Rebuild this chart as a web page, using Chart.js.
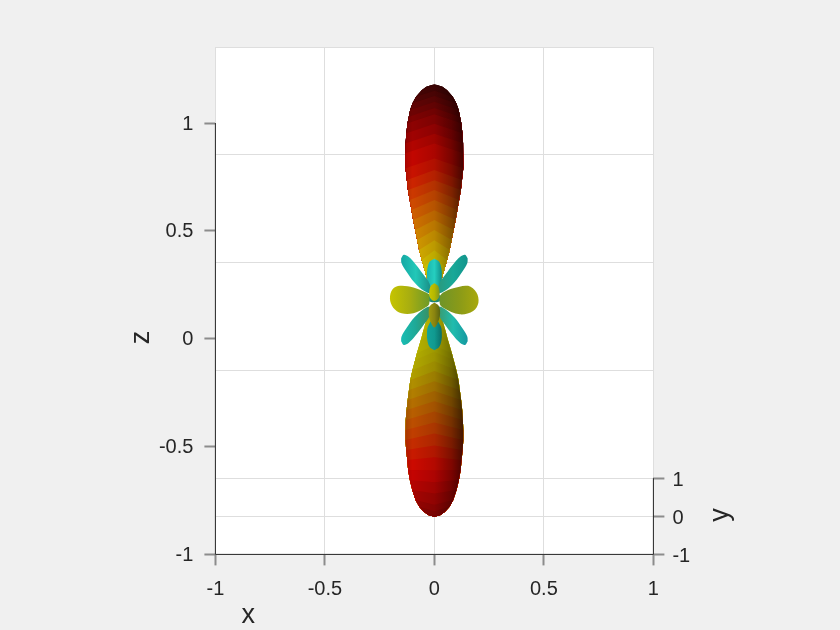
<!DOCTYPE html>
<html>
<head>
<meta charset="utf-8">
<title>Lobes</title>
<script src="https://cdn.jsdelivr.net/npm/chart.js@4"></script>
<style>
  html, body { margin: 0; padding: 0; background: #f0f0f0; }
  canvas { display: block; }
</style>
</head>
<body>
<canvas id="myChart" width="840" height="630"></canvas>
<script>
// tick labels
const xTicks = [-1, -0.5, 0, 0.5, 1];
const zTicks = [-1, -0.5, 0, 0.5, 1];
const yTicks = [-1, 0, 1];
const wallLines = [1.3505, 0.854, 0.353, -0.147];

// big lobes: one half width per z row
const topZ = [1.179, 1.176, 1.168, 1.153, 1.122, 1.091, 1.06, 1.029, 0.999, 0.952, 0.906, 0.86, 0.79, 0.736, 0.689, 0.643, 0.597, 0.55, 0.504, 0.458, 0.411, 0.365, 0.334, 0.272, 0.203];
const topW = [0, 0.013, 0.037, 0.057, 0.084, 0.1, 0.111, 0.117, 0.123, 0.128, 0.131, 0.132, 0.132, 0.126, 0.121, 0.113, 0.105, 0.097, 0.088, 0.079, 0.07, 0.058, 0.049, 0.032, 0.009];
const topApex = [1.179, 1.179, 1.179, 1.172, 1.15, 1.125, 1.098, 1.07, 1.04, 0.996, 0.95, 0.905, 0.836, 0.782, 0.735, 0.689, 0.643, 0.596, 0.55, 0.504, 0.457, 0.41, 0.375, 0.305, 0.21];
const topColors = ["#3c0404", "#3c0404", "#400404", "#460404", "#520404", "#600404", "#6e0303", "#7e0202", "#8e0202", "#a00202", "#b20400", "#c20600", "#c81200", "#cc2400", "#cc3800", "#ce4a00", "#cf5e00", "#d07200", "#d28600", "#d49a00", "#d6ae00", "#d8c000", "#d8cc00", "#d8d400", "#d8d400"];

const botZ = [0.133, 0.087, 0.04, -0.006, -0.068, -0.099, -0.145, -0.191, -0.238, -0.284, -0.331, -0.377, -0.423, -0.47, -0.516, -0.562, -0.609, -0.655, -0.701, -0.748, -0.779, -0.802, -0.817, -0.826];
const botW = [0.021, 0.037, 0.05, 0.062, 0.08, 0.088, 0.1, 0.11, 0.116, 0.122, 0.127, 0.13, 0.132, 0.132, 0.129, 0.124, 0.12, 0.112, 0.101, 0.086, 0.069, 0.048, 0.028, 0];
const botApex = [0.14, 0.11, 0.07, 0.03, -0.03, -0.06, -0.105, -0.15, -0.197, -0.243, -0.29, -0.337, -0.388, -0.44, -0.495, -0.55, -0.61, -0.665, -0.718, -0.77, -0.8, -0.82, -0.824, -0.826];
const botColors = ["#c8c800", "#c4c000", "#bcb800", "#b8b400", "#b4ae00", "#b2a800", "#b09e00", "#b08e00", "#b27e00", "#b46e00", "#b85e00", "#bc4e00", "#c03e00", "#c42c00", "#c81a00", "#cc0a00", "#c40402", "#b40402", "#a40402", "#960402", "#8a0402", "#860402", "#840402", "#840402"];

// small lobes, outline points
const leftX = [-0.024, -0.043, -0.096, -0.157, -0.191, -0.203, -0.188, -0.15, -0.096, -0.043, -0.024];
const leftZ = [0.206, 0.216, 0.237, 0.245, 0.229, 0.186, 0.144, 0.118, 0.118, 0.144, 0.16];
const rightX = [0.025, 0.04, 0.086, 0.154, 0.192, 0.201, 0.177, 0.116, 0.04, 0.025];
const rightZ = [0.198, 0.214, 0.234, 0.245, 0.214, 0.167, 0.129, 0.113, 0.144, 0.16];
const upLeftX = [-0.152, -0.14, -0.118, -0.088, -0.052, -0.022, -0.018, -0.048, -0.092, -0.128, -0.15];
const upLeftZ = [0.372, 0.389, 0.38, 0.348, 0.3, 0.255, 0.212, 0.222, 0.262, 0.312, 0.35];
const upRightX = [0.152, 0.14, 0.118, 0.088, 0.052, 0.022, 0.018, 0.048, 0.092, 0.128, 0.15];
const upRightZ = [0.372, 0.389, 0.38, 0.348, 0.3, 0.255, 0.212, 0.222, 0.262, 0.312, 0.35];
const lowLeftX = [-0.152, -0.14, -0.118, -0.088, -0.052, -0.022, -0.018, -0.048, -0.092, -0.128, -0.15];
const lowLeftZ = [-0.012, -0.029, -0.02, 0.012, 0.06, 0.105, 0.148, 0.138, 0.098, 0.048, 0.01];
const lowRightX = [0.152, 0.14, 0.118, 0.088, 0.052, 0.022, 0.018, 0.048, 0.092, 0.128, 0.15];
const lowRightZ = [-0.012, -0.029, -0.02, 0.012, 0.06, 0.105, 0.148, 0.138, 0.098, 0.048, 0.01];
const upMidX = [0, 0.021, 0.032, 0.034, 0.028, 0, -0.028, -0.034, -0.032, -0.021];
const upMidZ = [0.371, 0.358, 0.325, 0.29, 0.255, 0.226, 0.255, 0.29, 0.325, 0.358];
const lowMidX = [0, 0.021, 0.032, 0.034, 0.028, 0, -0.028, -0.034, -0.032, -0.021];
const lowMidZ = [-0.053, -0.04, -0.01, 0.025, 0.06, 0.095, 0.06, 0.025, -0.01, -0.04];
const hubX = [-0.043, -0.02, 0.02, 0.043, 0.02, -0.02];
const hubZ = [0.187, 0.203, 0.203, 0.187, 0.171, 0.171];
const coreUpX = [0, 0.016, 0.024, 0.02, 0, -0.02, -0.024, -0.016];
const coreUpZ = [0.257, 0.245, 0.214, 0.19, 0.175, 0.19, 0.214, 0.245];
const coreLowX = [0, 0.018, 0.026, 0.02, 0, -0.02, -0.026, -0.018];
const coreLowZ = [0.167, 0.155, 0.125, 0.085, 0.052, 0.085, 0.125, 0.155];

// painted in this order, colours run across the given x range
const smallLobes = [
  { x: lowMidX, z: lowMidZ, from: -0.034, to: 0.034, colors: ["#14a39a", "#109a90", "#0b6f68"] },
  { x: upMidX, z: upMidZ, from: -0.034, to: 0.034, colors: ["#1bb5ad", "#25cfc0", "#0f8f88"] },
  { x: upLeftX, z: upLeftZ, from: -0.152, to: -0.018, colors: ["#14a8a4", "#22c8b8", "#1a9088"] },
  { x: upRightX, z: upRightZ, from: 0.018, to: 0.152, colors: ["#2a9a7e", "#18a898", "#12948c"] },
  { x: lowLeftX, z: lowLeftZ, from: -0.152, to: -0.018, colors: ["#18bdb4", "#1fa896", "#3a8f60"] },
  { x: lowRightX, z: lowRightZ, from: 0.018, to: 0.152, colors: ["#3a9a70", "#20bcae", "#1498a0"] },
  { x: hubX, z: hubZ, from: -0.043, to: 0.043, colors: ["#2f9a78", "#1a7f70", "#2f9a78"] },
  { x: leftX, z: leftZ, from: -0.203, to: -0.024, colors: ["#c6c400", "#a8ae10", "#6f9a28"] },
  { x: rightX, z: rightZ, from: 0.025, to: 0.201, colors: ["#6f9428", "#8a9a18", "#a8a80c"] },
  { x: coreLowX, z: coreLowZ, from: -0.026, to: 0.026, colors: ["#a09a10", "#8a8410", "#5a6410"] },
  { x: coreUpX, z: coreUpZ, from: -0.024, to: 0.024, colors: ["#c8c400", "#b4b800", "#7c9420"] },
];
const shadowStops = [[0, 0.12], [0.12, 0], [0.5, 0.12], [0.8, 0.38], [1, 0.65]];

// dark parts of the box
const axisLeftX = [-1, -1];
const axisLeftZ = [-1, 1];
const axisBottomX = [-1, 1];
const axisBottomZ = [-1, -1];
const axisRightX = [1, 1];
const axisRightZ = [-1, -0.647];

const axisLabels = [
  { text: "x", x: -0.85, z: -1.285, turn: false },
  { text: "z", x: -1.337, z: 0.006, turn: true },
  { text: "y", x: 1.305, z: -0.817, turn: true },
];

function pts(xs, zs) {
  return xs.map((v, i) => ({ x: v, y: zs[i] }));
}

// region of a lobe under the bent line of row i
function bandBelow(zs, ws, apex, i) {
  const out = [{ x: -ws[i], y: zs[i] }, { x: 0, y: apex[i] }];
  for (let k = i; k < zs.length; k++) out.push({ x: ws[k], y: zs[k] });
  for (let k = zs.length - 1; k > i; k--) out.push({ x: -ws[k], y: zs[k] });
  return out;
}

function gradient(chart, from, to, stops) {
  const s = chart.scales.x;
  const a = s.getPixelForValue(from);
  const b = s.getPixelForValue(to);
  // scales have no size yet on the first pass
  if (!isFinite(a) || !isFinite(b)) return "transparent";
  const g = chart.ctx.createLinearGradient(a, 0, b, 0);
  stops.forEach((c) => g.addColorStop(c[0], c[1]));
  return g;
}

function shape(data, fillColor, tension) {
  return { data: data, showLine: true, fill: "shape", borderWidth: 0, pointRadius: 0, tension: tension, backgroundColor: fillColor };
}

function shadow(zs, ws) {
  const w = Math.max(...ws);
  const stops = shadowStops.map((s) => [s[0], "rgba(0,0,0," + s[1] + ")"]);
  return shape(bandBelow(zs, ws, zs, 0), (c) => gradient(c.chart, -w, w, stops), 0);
}

function axisLine(xs, zs) {
  return { data: pts(xs, zs), showLine: true, borderColor: "#262626", borderWidth: 1, pointRadius: 0, clip: false };
}

const paint = [];
topZ.forEach((z, i) => { if (i < topZ.length - 1) paint.push(shape(bandBelow(topZ, topW, topApex, i), topColors[i], 0)); });
paint.push(shadow(topZ, topW));
botZ.forEach((z, i) => { if (i < botZ.length - 1) paint.push(shape(bandBelow(botZ, botW, botApex, i), botColors[i], 0)); });
paint.push(shadow(botZ, botW));
smallLobes.forEach((l) => {
  const d = pts(l.x, l.z);
  d.push(d[0]);
  const stops = l.colors.map((c, i) => [i / (l.colors.length - 1), c]);
  paint.push(shape(d, (c) => gradient(c.chart, l.from, l.to, stops), 0.35));
});
paint.push(axisLine(axisLeftX, axisLeftZ), axisLine(axisBottomX, axisBottomZ), axisLine(axisRightX, axisRightZ));
// a higher order is drawn earlier
paint.forEach((d, i) => { d.order = paint.length - i; });

const tickFont = { family: "'Liberation Sans', Arial, sans-serif", size: 20 };
const gridColor = "#dedede";
const tickMark = "#8c8c8c";

const whiteBox = {
  id: "whiteBox",
  beforeDraw(chart) {
    const a = chart.chartArea;
    chart.ctx.save();
    chart.ctx.fillStyle = "#f0f0f0";
    chart.ctx.fillRect(0, 0, chart.width, chart.height);
    chart.ctx.fillStyle = "#ffffff";
    chart.ctx.fillRect(a.left, a.top, a.right - a.left, a.bottom - a.top);
    chart.ctx.restore();
  },
  afterDraw(chart) {
    const ctx = chart.ctx;
    axisLabels.forEach((l) => {
      ctx.save();
      ctx.translate(chart.scales.x.getPixelForValue(l.x), chart.scales.y.getPixelForValue(l.z));
      if (l.turn) ctx.rotate(-Math.PI / 2);
      ctx.font = "27px 'Liberation Sans', Arial, sans-serif";
      ctx.fillStyle = "#262626";
      ctx.textAlign = "center";
      ctx.textBaseline = "middle";
      ctx.fillText(l.text, 0, 0);
      ctx.restore();
    });
  },
};

const chart = new Chart(document.getElementById("myChart"), {
  type: "scatter",
  data: { datasets: paint },
  plugins: [whiteBox],
  options: {
    responsive: false,
    animation: false,
    layout: { padding: { top: 47.4 } },
    plugins: { legend: { display: false }, tooltip: { enabled: false } },
    scales: {
      x: {
        type: "linear",
        min: -1,
        max: 1,
        afterBuildTicks: (s) => { s.ticks = xTicks.map((v) => ({ value: v })); },
        afterFit: (s) => { s.height = 75.6; },
        grid: { color: gridColor, tickColor: tickMark, tickLength: 11, tickWidth: 2 },
        border: { display: false },
        ticks: { font: tickFont, color: "#262626", padding: 12, maxRotation: 0, callback: (v) => String(v) },
      },
      y: {
        type: "linear",
        min: -1,
        max: 1.3505,
        afterBuildTicks: (s) => { s.ticks = zTicks.map((v) => ({ value: v })); },
        afterFit: (s) => { s.width = 215.4; },
        grid: { drawOnChartArea: false, tickColor: tickMark, tickLength: 11, tickWidth: 2 },
        border: { display: false },
        ticks: { font: tickFont, color: "#262626", padding: 11, labelOffset: 1, callback: (v) => String(v) },
      },
      wall: {
        type: "linear",
        position: "left",
        min: -1,
        max: 1.3505,
        afterBuildTicks: (s) => { s.ticks = wallLines.map((v) => ({ value: v })); },
        afterFit: (s) => { s.width = 0; },
        grid: { color: gridColor, drawTicks: false },
        border: { display: false },
        ticks: { display: false },
      },
      depth: {
        type: "linear",
        position: "right",
        min: -1,
        max: 12.34,
        afterBuildTicks: (s) => { s.ticks = yTicks.map((v) => ({ value: v })); },
        afterFit: (s) => { s.width = 186.6; },
        grid: { color: gridColor, tickColor: tickMark, tickLength: 11, tickWidth: 2 },
        border: { display: false },
        ticks: { font: tickFont, color: "#262626", padding: 8, labelOffset: 2, callback: (v) => String(v) },
      },
    },
  },
});
// gradients need the laid out scales
chart.update();
</script>
</body>
</html>
